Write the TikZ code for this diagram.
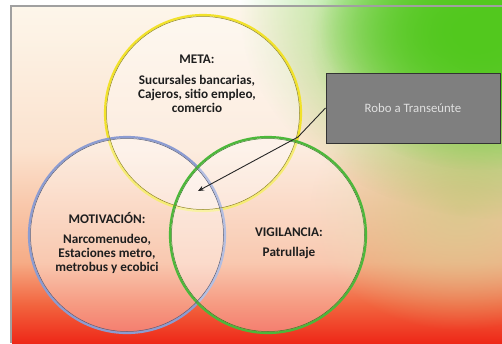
\documentclass[tikz,border=0pt]{standalone}
\usepackage{fontspec}
\setmainfont{Carlito}
\usetikzlibrary{arrows.meta,fadings}
\tikzfading[name=glow, inner color=transparent!0, outer color=transparent!100]
\definecolor{cream}{HTML}{FDF6EA}
\definecolor{peachA}{HTML}{FBE2CE}
\definecolor{peachB}{HTML}{F6AC86}
\definecolor{orangeC}{HTML}{F2643E}
\definecolor{redD}{HTML}{EE2818}
\definecolor{leaf}{HTML}{52C81E}
\definecolor{khaki}{HTML}{DCC88E}
\definecolor{ringY}{HTML}{F2E22A}
\definecolor{ringB}{HTML}{8C9CD2}
\definecolor{ringG}{HTML}{4CB83A}
\definecolor{boxgray}{HTML}{7F7F7F}
\definecolor{frame}{HTML}{A0A0A0}
\definecolor{ink}{HTML}{1E1E1E}
\tikzset{
  head/.style={font=\bfseries\fontsize{13.2}{14}\selectfont, text=ink, inner sep=0pt},
  body/.style={font=\bfseries\fontsize{13.2}{14}\selectfont, text=ink, align=center, inner sep=0pt},
  ring/.style={circle, minimum size=196pt, inner sep=0pt, line width=2.2pt, fill=white, fill opacity=0.35, draw opacity=1},
  robobox/.style={rectangle, fill=boxgray, draw=black!80, line width=1pt, minimum width=174pt, minimum height=70pt,
    font=\fontsize{12.8}{14}\selectfont, text=white!88!black},
  link/.style={line width=0.9pt, black!85, -{Stealth[length=6pt,width=5pt]}}
}
\begin{document}
\begin{tikzpicture}[x=1pt,y=-1pt]
\useasboundingbox (0,0) rectangle (502,343);
\fill[white] (0,0) rectangle (502,343);
% background bands
\shade[top color=cream, bottom color=peachA] (12,7) rectangle (502,150);
\shade[top color=peachA, bottom color=peachB] (12,150) rectangle (502,262);
\shade[top color=peachB, bottom color=orangeC] (12,262) rectangle (502,305);
\shade[top color=orangeC, bottom color=redD] (12,305) rectangle (502,343);
% khaki and green glows
\fill[khaki, path fading=glow] (460,210) ellipse (150 and 120);
\fill[leaf, path fading=glow] (510,10) ellipse (270 and 210);
\fill[leaf, path fading=glow] (480,40) ellipse (170 and 130);
\fill[leaf, path fading=glow] (470,30) ellipse (150 and 100);
% frame
\draw[frame, line width=2pt] (11,343) -- (11,6) -- (502,6);
% circles
\node[ring, draw=ringY] (meta) at (203,113) {};
\node[ring, draw=ringB] (moti) at (127,235) {};
\node[ring, draw=ringG] (vigi) at (268,235) {};
\draw[black!40!ringY, line width=0.5pt] (meta.center) circle (96.5);
\draw[black!40!ringB, line width=0.5pt] (moti.center) circle (96.5);
\draw[black!30!ringG, line width=0.5pt] (vigi.center) circle (96.5);
% texts
\node[head] (metaT) at (197,59) {META:};
\node[body] (metaB) at (197,94) {Sucursales bancarias,\\Cajeros, sitio empleo,\\comercio};
\node[head] (motiT) at (107,218) {MOTIVACIÓN:};
\node[body] (motiB) at (107,254) {Narcomenudeo,\\Estaciones metro,\\metrobus y ecobici};
\node[head] (vigiT) at (289,232) {VIGILANCIA:};
\node[body] (vigiB) at (289,253) {Patrullaje};
% box and arrow
\node[robobox] (robo) at (413,108) {Robo a Transeúnte};
\coordinate (bend) at (298,137);
\coordinate (tip) at (198,191);
\draw[link] (robo.west) -- (bend) -- (tip);
\end{tikzpicture}
\end{document}
